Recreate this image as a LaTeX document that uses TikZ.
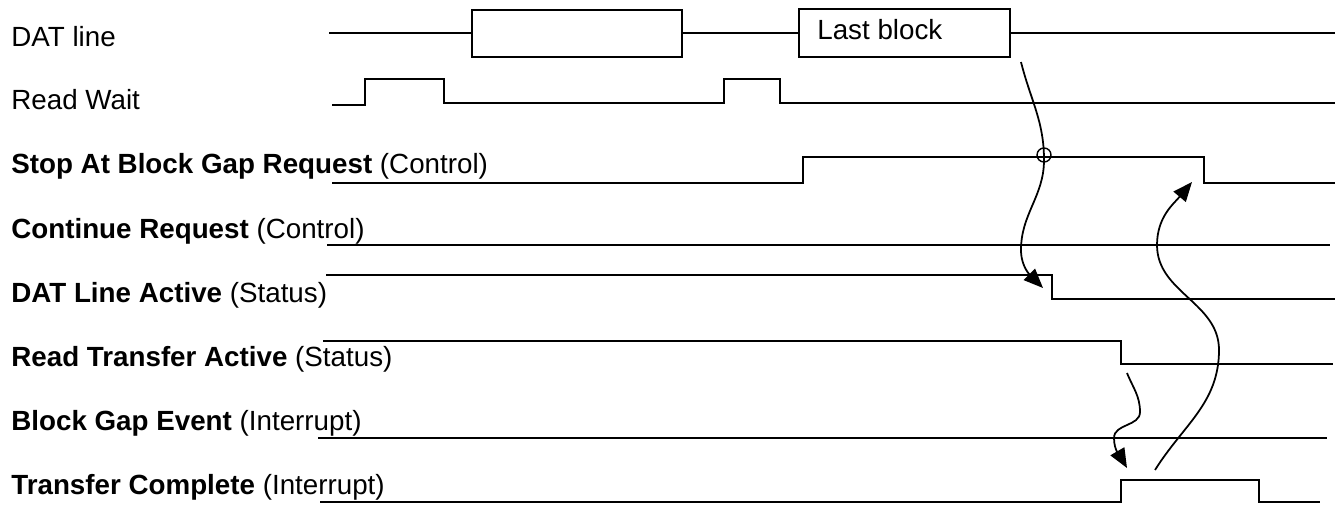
\documentclass[tikz,border=0pt]{standalone}
\usepackage{fontspec}
\setmainfont{Liberation Sans}
\usetikzlibrary{arrows.meta}

\definecolor{sigColor}{RGB}{0,0,0}

\begin{document}
\begin{tikzpicture}[x=0.02cm,y=0.02cm]
            \tikzset{sig/.style={draw=sigColor, line width=1.1pt, line join=miter},
                     lbl/.style={anchor=base west, inner sep=0pt, font=\fontsize{15.8}{19}\selectfont},
                     cause/.style={draw=sigColor, line width=1pt, -{Triangle[length=11pt,width=9pt]}}}

            \useasboundingbox (0,0) rectangle (1338,-504);

            % signal names
            \node[lbl] (datLbl) at (11,-46) {DAT line};
            \node[lbl] (rwLbl)  at (11,-109) {Read Wait};
            \node[lbl] (sbgLbl) at (11,-173) {\textbf{Stop At Block Gap Request} (Control)};
            \node[lbl] (crLbl)  at (11,-238) {\textbf{Continue Request} (Control)};
            \node[lbl] (dlaLbl) at (11,-302) {\textbf{DAT Line Active} (Status)};
            \node[lbl] (rtaLbl) at (11,-366) {\textbf{Read Transfer Active} (Status)};
            \node[lbl] (bgeLbl) at (11,-430) {\textbf{Block Gap Event} (Interrupt)};
            \node[lbl] (tcLbl)  at (11,-494) {\textbf{Transfer Complete} (Interrupt)};

            % DAT line
            \draw[sig] (329,-33) -- (472,-33);
            \draw[sig] (472,-10) rectangle (682,-57);
            \draw[sig] (682,-33) -- (799,-33);
            \draw[sig] (799,-9) rectangle (1010,-57);
            \draw[sig] (1010,-33) -- (1335,-33);
            \node[lbl] (lastLbl) at (817,-39) {Last block};

            % Read Wait
            \draw[sig] (332,-105) -- (365,-105) -- (365,-79) -- (444,-79) -- (444,-103)
                -- (724,-103) -- (724,-79) -- (780,-79) -- (780,-103) -- (1335,-103);

            % Stop At Block Gap Request
            \draw[sig] (332,-183) -- (803,-183) -- (803,-157) -- (1204,-157) -- (1204,-183) -- (1335,-183);
            \draw[sig, line width=0.8pt] (1044,-155) circle (7);

            % Continue Request
            \draw[sig] (327,-245) -- (1330,-245);

            % DAT Line Active
            \draw[sig] (326,-275) -- (1052,-275) -- (1052,-299) -- (1335,-299);

            % Read Transfer Active
            \draw[sig] (323,-341) -- (1121,-341) -- (1121,-364) -- (1333,-364);

            % Block Gap Event
            \draw[sig] (318,-438) -- (1327,-438);

            % Transfer Complete
            \draw[sig] (320,-502) -- (1121,-502) -- (1121,-480) -- (1259,-480) -- (1259,-502) -- (1320,-502);

            % causes
            \coordinate (lastEnd)  at (1021,-62);
            \coordinate (sbgHit)   at (1044,-160);
            \coordinate (dlaBend)  at (1021,-250);
            \coordinate (dlaFall)  at (1043,-288);
            \coordinate (rtaFall)  at (1127,-373);
            \coordinate (rtaBend)  at (1140,-412);
            \coordinate (rtaBend2) at (1114,-438);
            \coordinate (tcRise)   at (1127,-468);
            \coordinate (tcHigh)   at (1155,-470);
            \coordinate (tcBend)   at (1219,-350);
            \coordinate (tcBend2)  at (1157,-245);
            \coordinate (sbgFall)  at (1192,-182);

            \draw[cause] (lastEnd) to[out=-76,in=90] (sbgHit) to[out=-90,in=90] (dlaBend)
                to[out=-90,in=135] (dlaFall);
            \draw[cause] (rtaFall) to[out=-68,in=90] (rtaBend) to[out=-90,in=90] (rtaBend2)
                to[out=-90,in=120] (tcRise);
            \draw[cause] (tcHigh) to[out=58,in=-90] (tcBend) to[out=90,in=-90] (tcBend2)
                to[out=90,in=-130] (sbgFall);
        \end{tikzpicture}
\end{document}
